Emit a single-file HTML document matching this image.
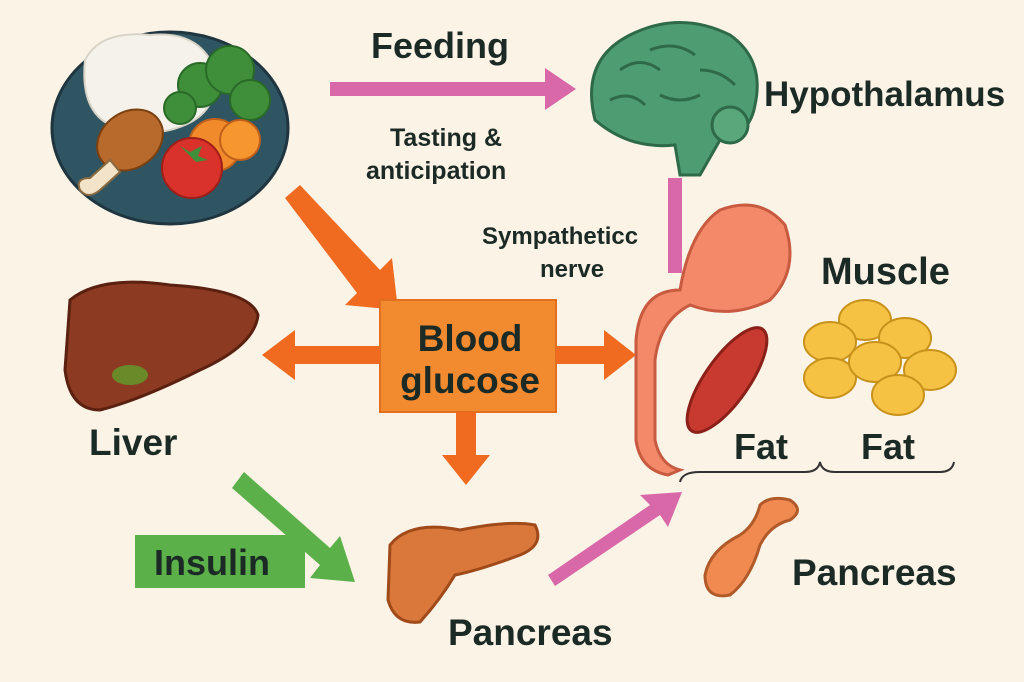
<!DOCTYPE html>
<html><head><meta charset="utf-8"><style>
html,body{margin:0;padding:0;background:#fbf3e6}
svg{display:block}
text{font-family:"Liberation Sans",sans-serif;font-weight:bold;fill:#1c2a26}
</style></head><body>
<svg width="1024" height="682" viewBox="0 0 1024 682" xmlns="http://www.w3.org/2000/svg">
<rect width="1024" height="682" fill="#fbf3e6"/>
<ellipse cx="170" cy="128" rx="118" ry="96" fill="#2f5462" stroke="#1f3640" stroke-width="3"/>
<path d="M85 60 Q100 30 150 35 Q200 30 215 70 Q220 110 185 125 Q150 140 110 125 Q80 110 85 60Z" fill="#f4f2ea" stroke="#d8d4c8" stroke-width="2"/>
<g fill="#3f8f3a" stroke="#2a6a28" stroke-width="2">
<circle cx="200" cy="85" r="22"/><circle cx="230" cy="70" r="24"/><circle cx="250" cy="100" r="20"/><circle cx="180" cy="108" r="16"/>
</g>
<circle cx="215" cy="145" r="26" fill="#f08a2a" stroke="#c0601a" stroke-width="2"/>
<circle cx="240" cy="140" r="20" fill="#f5962e" stroke="#c0601a" stroke-width="2"/>
<circle cx="192" cy="168" r="30" fill="#d8322a" stroke="#a02018" stroke-width="2"/>
<path d="M180 146 l10 6 l12 -6 l-4 10 l10 4 l-12 2z" fill="#3f8f3a"/>
<ellipse cx="130" cy="140" rx="35" ry="28" transform="rotate(-35 130 140)" fill="#b86a2c" stroke="#7a4010" stroke-width="2"/>
<path d="M110 160 L90 178 Q75 178 80 190 Q88 200 100 190 L120 172Z" fill="#f3e3c8" stroke="#8a6a40" stroke-width="2"/>
<text x="371" y="58" font-size="36">Feeding</text>
<rect x="330" y="82" width="220" height="14" fill="#d868a8"/>
<polygon points="545,68 576,89 545,110" fill="#d868a8"/>
<path d="M595 120 Q580 60 630 35 Q680 10 730 35 Q765 60 755 105 Q750 135 720 140 L700 175 L680 175 L675 145 Q630 150 595 120Z" fill="#4e9d72" stroke="#2e6a48" stroke-width="3"/>
<path d="M620 70 q20 -15 40 0 M650 50 q25 -10 45 5 M610 100 q20 -10 35 5 M700 70 q20 0 35 15 M660 95 q20 10 40 0" fill="none" stroke="#2e6a48" stroke-width="3"/>
<circle cx="730" cy="125" r="18" fill="#5aa77c" stroke="#2e6a48" stroke-width="3"/>
<text x="764" y="106" font-size="35">Hypothalamus</text>
<text x="390" y="146" font-size="25">Tasting &amp;</text>
<text x="366" y="179" font-size="25">anticipation</text>
<rect x="668" y="178" width="14" height="95" fill="#d868a8"/>
<text x="482" y="244" font-size="24">Sympatheticc</text>
<text x="540" y="277" font-size="24">nerve</text>
<path d="M680 290 Q690 230 720 210 Q760 195 785 225 Q800 270 770 300 Q730 320 690 305 Q660 320 655 360 L655 440 Q660 465 680 470 L668 475 Q640 470 636 440 L636 340 Q640 290 680 290Z" fill="#f4896a" stroke="#c85a40" stroke-width="3"/>
<text x="821" y="284" font-size="38">Muscle</text>
<g fill="#f6c244" stroke="#c8921a" stroke-width="2">
<ellipse cx="865" cy="320" rx="26" ry="20"/><ellipse cx="830" cy="342" rx="26" ry="20"/><ellipse cx="905" cy="338" rx="26" ry="20"/>
<ellipse cx="930" cy="370" rx="26" ry="20"/><ellipse cx="830" cy="378" rx="26" ry="20"/><ellipse cx="875" cy="362" rx="26" ry="20"/><ellipse cx="898" cy="395" rx="26" ry="20"/>
</g>
<ellipse cx="727" cy="380" rx="22" ry="62" transform="rotate(35 727 380)" fill="#c83a30" stroke="#8a2018" stroke-width="3"/>
<text x="734" y="459" font-size="36">Fat</text>
<text x="861" y="459" font-size="36">Fat</text>
<path d="M680 482 Q682 472 700 472 L805 472 Q818 472 820 462 Q822 472 835 472 L940 472 Q952 472 954 462" fill="none" stroke="#333" stroke-width="2"/>
<path d="M70 300 Q100 275 170 285 Q250 290 258 315 Q255 345 200 370 Q140 400 100 410 Q70 410 65 370 Z" fill="#8c3a22" stroke="#5a2010" stroke-width="3"/>
<ellipse cx="130" cy="375" rx="18" ry="10" fill="#6a8a2a"/>
<text x="89" y="455" font-size="37">Liver</text>
<polygon points="285,198 300,185 380,270 392,258 398,310 345,305 357,293" fill="#f06a20"/>
<rect x="380" y="300" width="176" height="112" fill="#f28a30" stroke="#e07020" stroke-width="2"/>
<text x="470" y="351" font-size="37" text-anchor="middle">Blood</text>
<text x="470" y="393" font-size="37" text-anchor="middle">glucose</text>
<rect x="290" y="346" width="90" height="18" fill="#f06a20"/>
<polygon points="262,355 295,330 295,380" fill="#f06a20"/>
<rect x="556" y="346" width="50" height="18" fill="#f06a20"/>
<polygon points="636,355 604,330 604,380" fill="#f06a20"/>
<rect x="456" y="412" width="20" height="45" fill="#f06a20"/>
<polygon points="442,455 490,455 466,485" fill="#f06a20"/>
<polygon points="232,488 244,472 330,548 340,536 355,582 310,578 320,565" fill="#5cb04a"/>
<rect x="135" y="535" width="170" height="53" fill="#5cb04a"/>
<text x="212" y="575" font-size="36" text-anchor="middle">Insulin</text>
<path d="M390 545 Q410 520 460 530 Q510 520 535 525 Q545 545 520 555 Q480 570 455 575 Q440 600 420 622 Q395 625 388 600 Z" fill="#d9783a" stroke="#a04a1a" stroke-width="3"/>
<text x="448" y="645" font-size="37">Pancreas</text>
<polygon points="548,575 555,586 660,515 668,527 682,492 640,495 650,505" fill="#d868a8"/>
<path d="M760 505 Q770 495 790 500 Q805 510 790 520 Q770 525 760 545 Q750 580 730 595 Q705 600 705 575 Q710 550 740 535 Q755 525 760 505Z" fill="#f08a50" stroke="#b05a2a" stroke-width="3"/>
<text x="792" y="585" font-size="37">Pancreas</text>
</svg>
</body></html>
